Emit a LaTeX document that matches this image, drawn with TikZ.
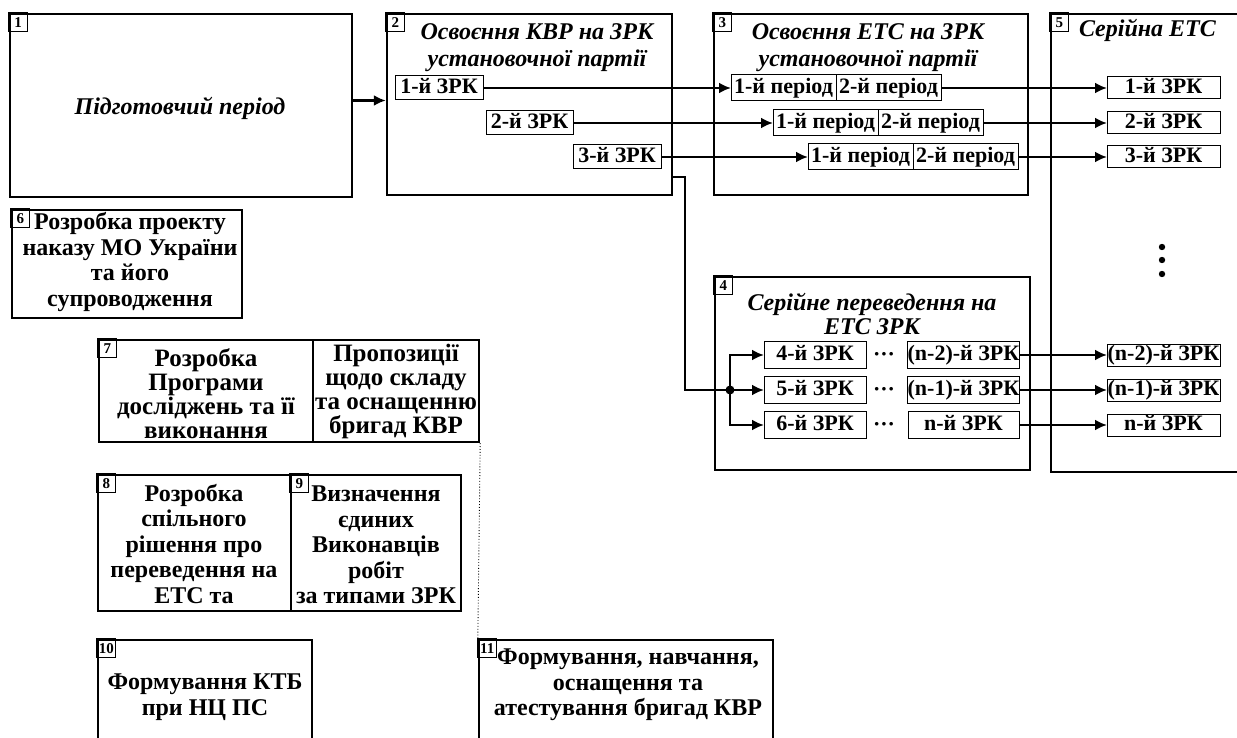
\documentclass[tikz,border=0pt]{standalone}
\usepackage{fontspec}
\setmainfont{Liberation Serif}
\usepackage{tikz}
\usetikzlibrary{positioning, arrows.meta}
\newcommand\titlefont{\fontsize{24}{27}\selectfont\bfseries\itshape}
\newcommand\bodyfont{\fontsize{24}{25.5}\selectfont\bfseries}
\newcommand\cellfont{\fontsize{22}{24}\selectfont\bfseries}
\newcommand\numfont{\fontsize{15}{15}\selectfont\bfseries}

\begin{document}
\begin{tikzpicture}[x=1pt, y=-1pt,
  frame/.style={draw, line width=2.4pt, inner sep=0pt},
  cell/.style={draw, line width=1pt, inner sep=0pt, outer sep=0pt, minimum height=24pt,
    text height=15pt, text depth=4pt, font=\cellfont},
  num/.style={draw, line width=0.8pt, anchor=north west, minimum size=19pt, inner sep=1pt, outer sep=0pt, font=\numfont},
  title/.style={font=\titlefont, align=center},
  body/.style={font=\bodyfont, align=center},
  flow/.style={line width=2.8pt, -{Latex[length=12pt,width=11pt]}}]
  \useasboundingbox (0,0) rectangle (1237,738);

  % Preparatory period
  \node (prep) at (181,105.5) [frame, line width=2.8pt, minimum width=342pt, minimum height=183pt] {};
  \node (prepnum) at (prep.north west) [num] {1};
  \node (preptext) at (180,108) [title] {Підготовчий період};

  % KVR on the first batch
  \node (kvr) at (529.5,104.5) [frame, minimum width=285pt, minimum height=181pt] {};
  \node (kvrnum) at (kvr.north west) [num] {2};
  \node (kvrtitle) at (537,48) [title] {Освоєння КВР на ЗРК\\установочної партії};
  \node (kvr1) at (439,88) [cell, minimum width=88pt] {1-й ЗРК};
  \node (kvr2) at (529.5,123) [cell, minimum width=87pt] {2-й ЗРК};
  \node (kvr3) at (617,157) [cell, minimum width=88pt] {3-й ЗРК};

  % ETS on the first batch
  \node (ets) at (871,104.5) [frame, minimum width=314pt, minimum height=181pt] {};
  \node (etsnum) at (ets.north west) [num] {3};
  \node (etstitle) at (868,48) [title] {Освоєння ЕТС на ЗРК\\установочної партії};
  \foreach \i/\x/\y in {1/731/88, 2/773/123, 3/808/157} {
    \node (pa\i) at (\x,\y) [cell, anchor=west, minimum width=105pt, minimum height=26pt] {1-й період};
    \node (pb\i) [cell, right=0pt of pa\i, minimum width=105pt, minimum height=26pt] {2-й період};
  }

  % Serial ETS
  \node (ser) at (1150.5,243) [frame, minimum width=199pt, minimum height=458pt] {};
  \node (sernum) at (ser.north west) [num] {5};
  \node (sertitle) at (1147.5,30) [title] {Серійна ЕТС};
  \foreach \i/\y/\t in {1/88/1-й ЗРК, 2/123/2-й ЗРК, 3/157/3-й ЗРК, 4/355/(n-2)-й ЗРК, 5/390/(n-1)-й ЗРК, 6/425/n-й ЗРК}
    \node (ser\i) at (1163.5,\y) [cell, minimum width=113pt, minimum height=22pt] {\t};
  \foreach \y in {247,260,274}
    \fill (1162,\y) circle (3.2pt);

  % Serial transfer
  \node (srl) at (872.5,373.5) [frame, minimum width=315pt, minimum height=193pt] {};
  \node (srlnum) at (srl.north west) [num] {4};
  \node (srltitle) at (872,314) [title, font=\titlefont\fontsize{24}{24.5}\selectfont] {Серійне переведення на\\ЕТС ЗРК};
  \foreach \i/\y/\a/\b in {1/355/4-й ЗРК/(n-2)-й ЗРК, 2/390/5-й ЗРК/(n-1)-й ЗРК, 3/425/6-й ЗРК/n-й ЗРК} {
    \node (sa\i) at (815,\y) [cell, minimum width=102pt, minimum height=27pt] {\a};
    \node (sd\i) at (884,\y+6) [anchor=base, font=\cellfont] {···};
    \node (sb\i) at (963.5,\y) [cell, minimum width=111pt, minimum height=27pt] {\b};
  }

  % Order of the ministry
  \node (order) at (127,264) [frame, minimum width=230pt, minimum height=108pt] {};
  \node (ordernum) at (order.north west) [num] {6};
  \node (ordertext) at (130,262) [body] {Розробка проекту\\наказу МО України\\та його\\супроводження};

  % Research programme and proposals
  \node (prog) at (206,391) [frame, minimum width=214pt, minimum height=102pt] {};
  \node (prognum) at (prog.north west) [num] {7};
  \node (progtext) at (206,394) [body, font=\bodyfont\fontsize{25}{24}\selectfont] {Розробка\\Програми\\досліджень та її\\виконання};
  \node (brig) at (396,391) [frame, body, font=\bodyfont\fontsize{25}{24}\selectfont, minimum width=166pt, minimum height=102pt] {Пропозиції\\щодо складу\\та оснащенню\\бригад КВР};

  % Joint decision and executors
  \node (dec) at (194.5,543) [frame, minimum width=193pt, minimum height=136pt] {};
  \node (decnum) at (dec.north west) [num] {8};
  \node (dectext) at (194,544) [body] {Розробка\\спільного\\рішення про\\переведення на\\ЕТС та};
  \node (exec) at (376,543) [frame, minimum width=170pt, minimum height=136pt] {};
  \node (execnum) at (exec.north west) [num] {9};
  \node (exectext) at (376,545) [body] {Визначення\\єдиних\\Виконавців\\робіт\\за типами ЗРК};

  % KTB and brigades
  \node (ktb) at (205,695) [frame, minimum width=214pt, minimum height=110pt] {};
  \node (ktbnum) at (ktb.north west) [num] {10};
  \node (ktbtext) at (205,697) [body] {Формування КТБ\\при НЦ ПС};
  \node (team) at (626,695) [frame, minimum width=294pt, minimum height=110pt] {};
  \node (teamnum) at (team.north west) [num] {11};
  \node (teamtext) at (628,685) [body] {Формування, навчання,\\оснащення та\\атестування бригад КВР};

  % connectors
  \draw[flow] ([yshift=5pt]prep.east) -- ([yshift=5pt]prep.east -| kvr.west);
  \foreach \i in {1,2,3} {
    \draw[flow] (kvr\i) -- (pa\i);
    \draw[flow] (pb\i) -- (ser\i);
  }
  \foreach \i/\j in {1/4, 2/5, 3/6}
    \draw[flow] (sb\i) -- (ser\j);

  % branch to serial transfer
  \coordinate (knee) at (685,177);
  \coordinate (hub) at (730,390);
  \draw[line width=2.8pt] (kvr.east |- knee) -- (knee) |- (hub);
  \fill (hub) circle (4.5pt);
  \draw[flow] (hub) -- (sa2);
  \draw[flow] (hub) |- (sa1);
  \draw[flow] (hub) |- (sa3);

  \draw[dotted, line width=0.9pt] (brig.south east) -- (team.north west);
\end{tikzpicture}
\end{document}
